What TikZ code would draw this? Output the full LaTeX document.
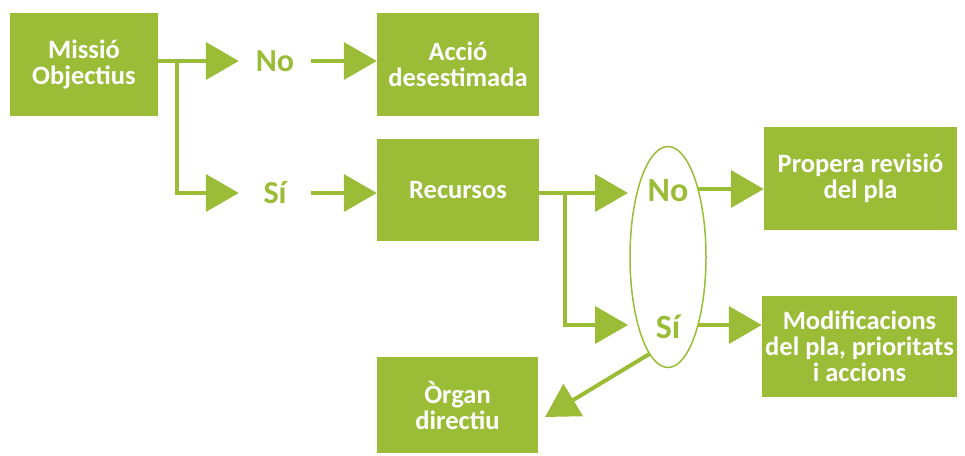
\documentclass[tikz,border=0pt]{standalone}
\usepackage{fontspec}
\setmainfont{Carlito}
\usetikzlibrary{arrows.meta,shapes.geometric}
\definecolor{gr}{RGB}{155,188,55}
\begin{document}
\begin{tikzpicture}[x=1pt,y=-1pt,
  box/.style={fill=gr, text=white, font=\fontsize{26.5}{26}\selectfont\bfseries, align=center, inner sep=0pt},
  lab/.style={text=gr, font=\fontsize{32}{32}\selectfont\bfseries, inner sep=0pt},
  conn/.style={draw=gr, line width=4pt},
  arr/.style={conn, -{Triangle[length=33pt,width=37pt]}},
  ]
\useasboundingbox (0,0) rectangle (965,455);
% boxes
\node[box, minimum width=148pt, minimum height=103pt] (mis) at (84,64.5) {Missió\\Objectius};
\node[box, minimum width=162pt, minimum height=103pt] (acc) at (458,64.5) {Acció\\desestimada};
\node[box, minimum width=162pt, minimum height=102pt] (rec) at (458,190) {Recursos};
\node[box, minimum width=193pt, minimum height=103pt] (pro) at (860.5,178.5) {Propera revisió\\del pla};
\node[box, minimum width=195pt, minimum height=101pt] (mod) at (859.5,346.5) {Modificacions\\del pla, prioritats\\i accions};
\node[box, minimum width=161pt, minimum height=96pt] (org) at (457.5,405) {Òrgan\\directiu};
% labels
\node[lab, minimum width=72pt] (no1) at (275,61) {No};
\node[lab, minimum width=72pt] (si1) at (275,193) {Sí};
\node[draw=gr, line width=1.5pt, ellipse, minimum width=76pt, minimum height=221pt] (ell) at (668,257) {};
\node[lab, font=\fontsize{34}{34}\selectfont\bfseries] (no2) at (668,191) {No};
\node[lab, font=\fontsize{34}{34}\selectfont\bfseries] (si2) at (668,327) {Sí};
% branch points
\coordinate (b1) at (177,61);
\coordinate (b2) at (565,193);
\coordinate (tipO) at (545,417);
% connectors
\draw[arr] (mis.east |- no1) -- (no1.west);
\draw[arr] (b1) |- (si1.west);
\draw[arr] (no1.east) -- (no1.east -| acc.west);
\draw[arr] (si1.east) -- (si1.east -| rec.west);
\draw[arr] (rec.east |- b2) -- ([xshift=-40pt]b2 -| ell.center);
\draw[arr] (b2) |- ([xshift=-40pt,yshift=2pt]si2.center);
\draw[arr] ([xshift=30pt,yshift=2pt]no2.center) -- ([yshift=2pt]no2.center -| pro.west);
\draw[arr] ([xshift=30pt,yshift=2pt]si2.center) -- ([yshift=2pt]si2.center -| mod.west);
\draw[arr] (ell.259) -- (tipO);
\end{tikzpicture}
\end{document}
